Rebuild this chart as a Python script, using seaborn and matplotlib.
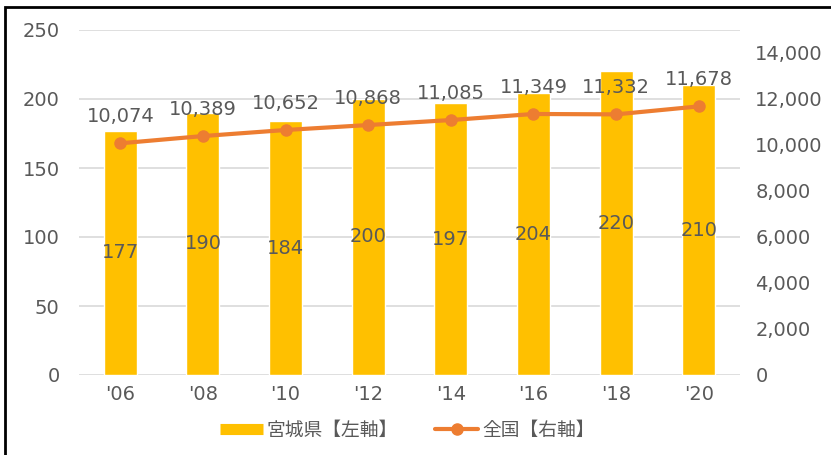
import matplotlib
matplotlib.use("Agg")
import matplotlib.pyplot as plt
import seaborn as sns
import pandas as pd
from matplotlib.patches import Rectangle
from matplotlib.lines import Line2D
from matplotlib.ticker import FuncFormatter

years = ["'06", "'08", "'10", "'12", "'14", "'16", "'18", "'20"]
miyagi = [177, 190, 184, 200, 197, 204, 220, 210]
national = [10074, 10389, 10652, 10868, 11085, 11349, 11332, 11678]

sns.set_theme(style="white")
plt.rcParams['font.family'] = ['DejaVu Sans', 'Noto Sans CJK JP']

bar_color = "#FFC000"
line_color = "#ED7D31"
text_color = "#595959"

df = pd.DataFrame({"year": years, "miyagi": miyagi, "national": national})

fig = plt.figure(figsize=(8.31, 4.55), dpi=100)
ax = fig.add_axes([79 / 831, 80 / 455, 661 / 831, 345 / 455])

sns.barplot(data=df, x="year", y="miyagi", color=bar_color, width=0.40,
            saturation=1, ax=ax)
ax.set_ylim(0, 250)
ax.set_yticks(range(0, 251, 50))
ax.yaxis.grid(True, color="#D9D9D9", linewidth=1.2)
ax.set_axisbelow(True)
ax.set_xlabel("")
ax.set_ylabel("")
for s in ax.spines.values():
    s.set_visible(False)
ax.tick_params(axis="y", length=0, labelsize=14, colors=text_color, pad=14)
ax.tick_params(axis="x", length=0, labelsize=14, colors=text_color, pad=7)

for i, v in enumerate(miyagi):
    ax.text(i, v / 2, str(v), ha="center", va="center", fontsize=14, color=text_color)

ax2 = ax.twinx()
pos = list(range(len(years)))
sns.lineplot(x=pos, y=national, color=line_color, linewidth=3, marker="o",
             markersize=9, markeredgewidth=0, ax=ax2)
ax2.set_ylim(0, 15000)
ax2.set_yticks(range(0, 14001, 2000))
ax2.yaxis.set_major_formatter(FuncFormatter(lambda v, p: f"{int(v):,}"))
for s in ax2.spines.values():
    s.set_visible(False)
ax2.tick_params(axis="y", length=0, labelsize=14, colors=text_color, pad=11)
ax2.set_ylabel("")
ax.set_xlim(-0.5, len(years) - 0.5)

for i, v in enumerate(national):
    ax2.text(i, v + 750, f"{v:,}", ha="center", va="bottom", fontsize=14, color=text_color)

handles = [
    Line2D([0], [0], color=bar_color, linewidth=8, solid_capstyle="butt"),
    Line2D([0], [0], color=line_color, linewidth=3, marker="o", markersize=8),
]
fig.legend(handles, ["宮城県【左軸】", "全国【右軸】"], loc="center",
           bbox_to_anchor=(0.49, 0.055), ncol=2, frameon=False, fontsize=13.5,
           labelcolor=text_color, handlelength=2.3, columnspacing=2.0, handletextpad=0.2)

fig.patches.append(Rectangle((5 / 831, -0.1), 1.0, 1 - 7 / 455 + 0.1,
                             transform=fig.transFigure, fill=False,
                             edgecolor="black", linewidth=2))

fig.savefig("out.png", dpi=100)
